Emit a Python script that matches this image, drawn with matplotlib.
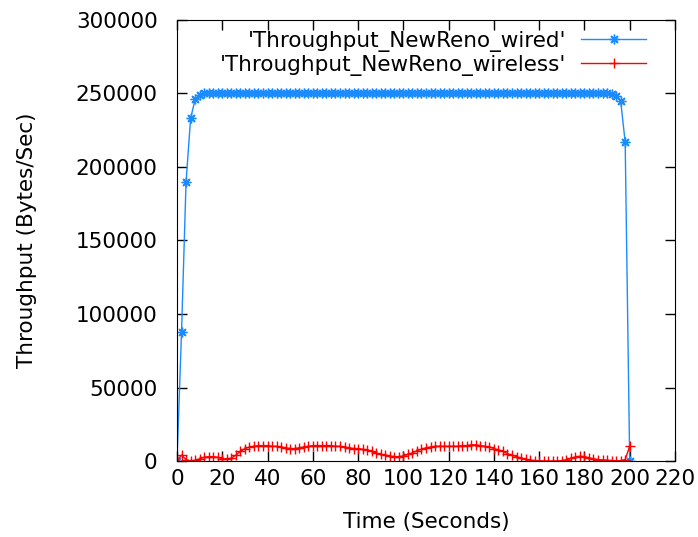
import numpy as np
import matplotlib
matplotlib.use("Agg")
from matplotlib import pyplot as plt

# time axis (seconds), one sample every 2 s
time_s = np.arange(0, 201, 2)

# throughput of the wired NewReno flow (bytes/sec)
wired = [
    0, 88000, 190000, 233000, 246000, 249000, 250000, 250000, 250000, 250000,
    250000, 250000, 250000, 250000, 250000, 250000, 250000, 250000, 250000, 250000,
    250000, 250000, 250000, 250000, 250000, 250000, 250000, 250000, 250000, 250000,
    250000, 250000, 250000, 250000, 250000, 250000, 250000, 250000, 250000, 250000,
    250000, 250000, 250000, 250000, 250000, 250000, 250000, 250000, 250000, 250000,
    250000, 250000, 250000, 250000, 250000, 250000, 250000, 250000, 250000, 250000,
    250000, 250000, 250000, 250000, 250000, 250000, 250000, 250000, 250000, 250000,
    250000, 250000, 250000, 250000, 250000, 250000, 250000, 250000, 250000, 250000,
    250000, 250000, 250000, 250000, 250000, 250000, 250000, 250000, 250000, 250000,
    250000, 250000, 250000, 250000, 250000, 250000, 249500, 248000, 245000, 217000,
    0,
]

# throughput of the wireless NewReno flow (bytes/sec)
wireless = [
    0, 4000, 1000, 0, 500, 1500, 2500, 3000, 3000, 2500,
    1500, 1500, 2000, 4000, 6500, 8500, 9500, 10000, 10500, 10500,
    10500, 10000, 10000, 9500, 9000, 8500, 8500, 9000, 9500, 10000,
    10500, 10500, 10500, 10500, 10500, 10000, 10000, 9500, 9000, 8500,
    8500, 8000, 7500, 6500, 5500, 4500, 4000, 3500, 3000, 3000,
    3500, 4500, 5500, 7000, 8000, 9000, 9500, 10000, 10000, 10000,
    10000, 10000, 10000, 10500, 10500, 11000, 11000, 10500, 10000, 9500,
    8500, 7500, 6500, 5000, 4000, 3000, 2000, 1200, 600, 300,
    100, 0, 0, 0, 0, 300, 800, 1800, 2800, 3200,
    3000, 2200, 1500, 1000, 700, 500, 300, 200, 200, 1000,
    10000,
]

x_ticks = list(range(0, 221, 20))
y_ticks = list(range(0, 300001, 50000))

plt.rcParams['font.family'] = 'DejaVu Sans'
plt.rcParams['font.size'] = 15.5

fig = plt.figure(figsize=(6.98, 5.37), dpi=100)
ax = fig.add_axes([0.2536, 0.1415, 0.7134, 0.8213])

ax.plot(time_s, wired, color='#1a8cff', lw=1, marker=(8, 2, 0), ms=7, mew=1,
        label="'Throughput_NewReno_wired'")
ax.plot(time_s, wireless, color='#ff0000', lw=1, marker='+', ms=7.5, mew=1,
        label="'Throughput_NewReno_wireless'")

ax.set_xlim(0, 220)
ax.set_ylim(0, 300000)
ax.set_xticks(x_ticks)
ax.set_yticks(y_ticks)
ax.tick_params(direction='in', length=7, width=1, top=True, right=True)
ax.tick_params(axis='y', pad=14)
ax.tick_params(axis='x', pad=6)
ax.set_xlabel('Time (Seconds)', labelpad=16)
ax.set_ylabel('Throughput (Bytes/Sec)', labelpad=28)

leg = ax.legend(loc='upper right', bbox_to_anchor=(0.9418, 0.976), frameon=False,
                markerfirst=False, handlelength=3.0, handletextpad=0.7,
                borderpad=0, labelspacing=0.15, borderaxespad=0)

fig.savefig('out.png', dpi=100)
